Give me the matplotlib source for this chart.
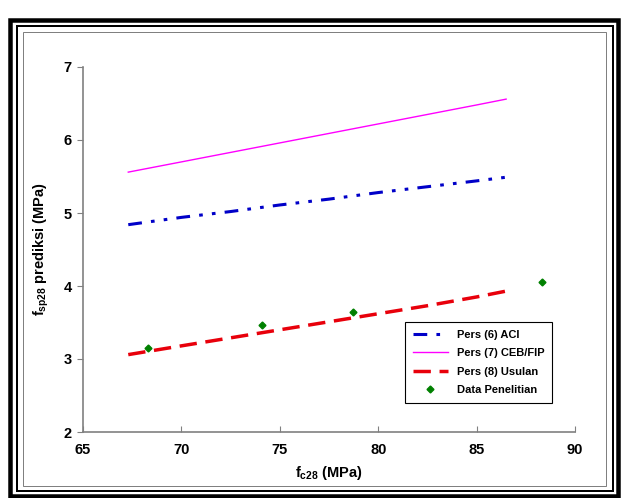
import numpy as np
import matplotlib
matplotlib.use("Agg")
import matplotlib.pyplot as plt
from matplotlib.patches import Rectangle

plt.rcParams['font.family'] = ['Liberation Sans', 'DejaVu Sans']
plt.rcParams['font.weight'] = 'bold'
plt.rcParams['mathtext.fontset'] = 'custom'
plt.rcParams['mathtext.rm'] = 'Liberation Sans:bold'
plt.rcParams['mathtext.it'] = 'Liberation Sans:bold'

# data
fc = [67.3, 70.0, 72.5, 75.0, 77.5, 80.0, 82.5, 85.0, 86.5]
aci = [4.84, 4.94, 5.02, 5.11, 5.19, 5.28, 5.36, 5.44, 5.49]
ceb = [5.56, 5.70, 5.83, 5.96, 6.09, 6.22, 6.35, 6.48, 6.56]
usulan = [3.06, 3.18, 3.29, 3.40, 3.51, 3.62, 3.73, 3.85, 3.93]

fc_data = [68.3, 74.1, 78.7, 88.3]
fsp_data = [3.15, 3.46, 3.64, 4.05]

W, H = 623, 498
fig = plt.figure(figsize=(W / 100, H / 100), dpi=100)

def px_rect(x0, y0, x1, y1, lw, color):
    # rectangle given in pixel coords (y from top)
    r = Rectangle((x0 / W, 1 - y1 / H), (x1 - x0) / W, (y1 - y0) / H,
                  transform=fig.transFigure, fill=False, lw=lw * 0.72,
                  edgecolor=color)
    fig.patches.append(r)

# triple border frame
px_rect(10.3, 20.5, 618, 495.5, 4.5, 'black')
px_rect(16.7, 26, 612.5, 491, 2, 'black')
px_rect(23, 32.3, 606, 486, 1, '#808080')

ax = fig.add_axes([83 / W, 1 - 432 / H, (575 - 83) / W, (432 - 67) / H])

ax.plot(fc, aci, color='#0000C8', lw=2.2,
        linestyle=(0, (4.5, 3, 1.2, 3, 1.2, 3)), label='Pers (6) ACI')
ax.plot(fc, ceb, color='#FF00FF', lw=1, label='Pers (7) CEB/FIP')
ax.plot(fc, usulan, color='#E8000B', lw=2.5,
        linestyle=(0, (5, 2.5)), label='Pers (8) Usulan')
ax.plot(fc_data, fsp_data, linestyle='none', marker='D', markersize=3.5,
        color='#008000', label='Data Penelitian')

ax.set_xlim(65, 90)
ax.set_ylim(2, 7)
ax.set_xticks(np.arange(65, 91, 5))
ax.set_yticks(np.arange(2, 8, 1))

for s in ['top', 'right']:
    ax.spines[s].set_visible(False)
for s in ['left', 'bottom']:
    ax.spines[s].set_color('#808080')
    ax.spines[s].set_linewidth(1.2)

ax.tick_params(axis='x', direction='in', length=4, color='#808080',
               labelsize=10.5, pad=8)
ax.tick_params(axis='y', direction='out', length=4, color='#808080',
               labelsize=10.5, pad=4)
for lab in ax.get_xticklabels() + ax.get_yticklabels():
    lab.set_fontweight('bold')

ax.set_xlabel('$f_{c28}$ (MPa)', fontsize=10.5, fontweight='bold', labelpad=5)
ax.set_ylabel('$f_{sp28}$ prediksi (MPa)', fontsize=10.5, fontweight='bold',
              labelpad=9)

leg = ax.legend(loc='upper left', bbox_to_anchor=(0.654, 0.301),
                borderaxespad=0, fancybox=False, framealpha=1,
                edgecolor='black', prop={'size': 8, 'weight': 'bold'},
                handlelength=3.2, labelspacing=0.75, borderpad=0.7)
leg.get_frame().set_linewidth(0.8)

fig.savefig('out.png', dpi=100)
